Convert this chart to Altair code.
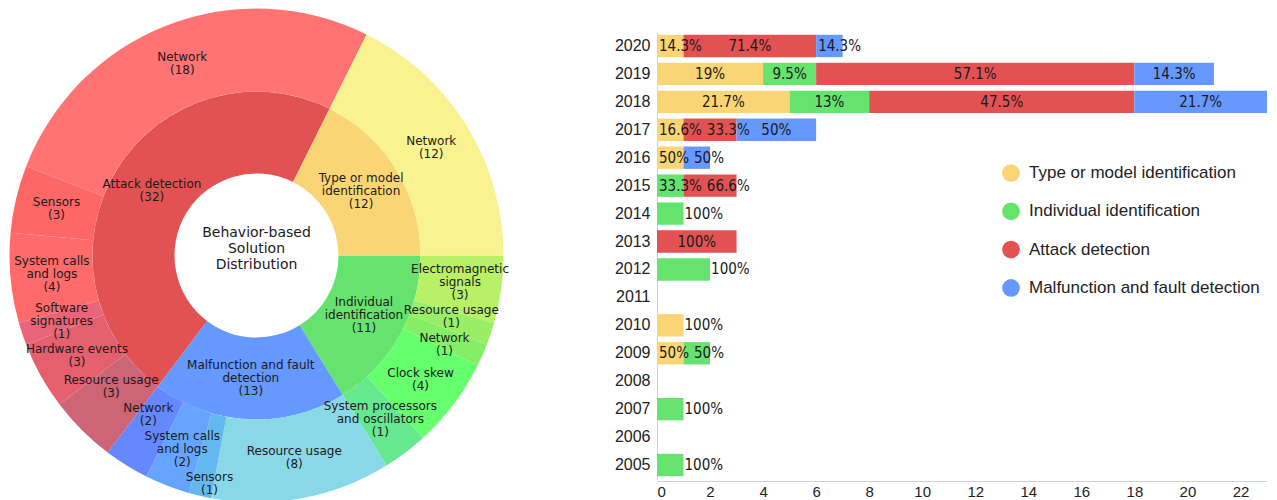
import math
import altair as alt
import pandas as pd

# ---------------- Sunburst data ----------------
inner_names = ["Individual identification", "Malfunction and fault detection",
               "Attack detection", "Type or model identification"]
inner_counts = [11, 13, 32, 12]
inner_texts = ["Individual\nidentification\n(11)", "Malfunction and fault\ndetection\n(13)",
               "Attack detection\n(32)", "Type or model\nidentification\n(12)"]

outer_parents = (["Individual identification"] * 5 + ["Malfunction and fault detection"] * 4
                 + ["Attack detection"] * 6 + ["Type or model identification"])
outer_names = ["Electromagnetic signals", "Resource usage", "Network", "Clock skew",
               "System processors and oscillators",
               "Resource usage", "Sensors", "System calls and logs", "Network",
               "Resource usage", "Hardware events", "Software signatures",
               "System calls and logs", "Sensors", "Network",
               "Network"]
outer_sizes = [3, 1, 1, 4, 2,
               8, 1, 2, 2,
               3, 3, 1, 4, 3, 18,
               12]
outer_texts = ["Electromagnetic\nsignals\n(3)", "Resource usage\n(1)", "Network\n(1)", "Clock skew\n(4)",
               "System processors\nand oscillators\n(1)",
               "Resource usage\n(8)", "Sensors\n(1)", "System calls\nand logs\n(2)", "Network\n(2)",
               "Resource usage\n(3)", "Hardware events\n(3)", "Software\nsignatures\n(1)",
               "System calls\nand logs\n(4)", "Sensors\n(3)", "Network\n(18)",
               "Network\n(12)"]
title_lines = ["Behavior-based", "Solution", "Distribution"]

inner_palette = ["#66E36E", "#6699FF", "#E35252", "#FAD575"]
outer_palette = ["#B8F066", "#99EE66", "#85EE66", "#66FF6E", "#66E890",
                 "#88D8E8", "#63B9EF", "#66A5FF", "#6688FF",
                 "#CC6677", "#E5606E", "#E8667A", "#FF6B6B", "#FF6767", "#FF7373",
                 "#F8F291"]

# ---------------- Bar chart data ----------------
years = ["2020", "2019", "2018", "2017", "2016", "2015", "2014", "2013",
         "2012", "2011", "2010", "2009", "2008", "2007", "2006", "2005"]
bar_categories = ["Type or model identification", "Individual identification",
                  "Attack detection", "Malfunction and fault detection"]
type_counts = [1, 4, 5, 1, 1, 0, 0, 0, 0, 0, 1, 1, 0, 0, 0, 0]
indiv_counts = [0, 2, 3, 0, 0, 1, 1, 0, 2, 0, 0, 1, 0, 1, 0, 1]
attack_counts = [5, 12, 10, 2, 0, 2, 0, 3, 0, 0, 0, 0, 0, 0, 0, 0]
malf_counts = [1, 3, 5, 3, 1, 0, 0, 0, 0, 0, 0, 0, 0, 0, 0, 0]
type_pct = ["14.3%", "19%", "21.7%", "16.6%", "50%", "", "", "", "", "", "100%", "50%", "", "", "", ""]
indiv_pct = ["", "9.5%", "13%", "", "", "33.3%", "100%", "", "100%", "", "", "50%", "", "100%", "", "100%"]
attack_pct = ["71.4%", "57.1%", "47.5%", "33.3%", "", "66.6%", "", "100%", "", "", "", "", "", "", "", ""]
malf_pct = ["14.3%", "14.3%", "21.7%", "50%", "50%", "", "", "", "", "", "", "", "", "", "", ""]
bar_palette = ["#FAD575", "#66E36E", "#E35252", "#6699FF"]

# ---------------- Layout constants ----------------
CX, CY = 248.5, 247.5
R0, R1, R2 = 82, 164, 247
FONT_PIE = "DejaVu Sans"
FONT_BAR = "Liberation Sans"
FONT_BARLBL = "DejaVu Sans Condensed, Liberation Sans"
BAR_W, PANEL_H = 610, 473
X_MAX = 23
LH = 13
PIE_FS = 12

total = sum(inner_counts)
theta_scale = alt.Scale(domain=[0, total], range=[math.pi / 2, math.pi / 2 + 2 * math.pi])

# approximate DejaVu Sans advance widths (em) for label-collision estimates
_DV = {"a": .613, "b": .635, "c": .55, "d": .635, "e": .615, "f": .352, "g": .635, "h": .634,
       "i": .278, "j": .278, "k": .579, "l": .278, "m": .974, "n": .634, "o": .612, "p": .635,
       "q": .635, "r": .411, "s": .521, "t": .392, "u": .634, "v": .592, "w": .818, "x": .592,
       "y": .592, "z": .525, " ": .318, "(": .39, ")": .39, "-": .361}


def dv_width(line, size=PIE_FS):
    w = 0.0
    for ch in line:
        if ch.isdigit():
            w += .636
        elif ch.isupper():
            w += .7
        else:
            w += _DV.get(ch, .6)
    return w * size


def ring_table(keys, values, texts, radius, repel=False):
    df = pd.DataFrame({"key": keys, "value": values, "label": texts})
    df["end"] = df["value"].cumsum()
    df["start"] = df["end"] - df["value"]
    df["mid"] = (df["start"] + df["end"]) / 2
    df["nlines"] = df["label"].str.count("\n") + 1
    boxes = []
    for _, r in df.iterrows():
        a = math.pi / 2 + r["mid"] / total * 2 * math.pi
        lines = r["label"].split("\n")
        boxes.append([radius * math.sin(a), -radius * math.cos(a),
                      max(dv_width(s) for s in lines) + 2, len(lines) * LH + 2])
    if repel:
        # simple label repulsion (push overlapping label blocks apart)
        for _ in range(300):
            moved = False
            for i in range(len(boxes)):
                for j in range(i + 1, len(boxes)):
                    xi, yi, wi, hi = boxes[i]
                    xj, yj, wj, hj = boxes[j]
                    ox = (wi + wj) / 2 - abs(xi - xj)
                    oy = (hi + hj) / 2 - abs(yi - yj)
                    if ox > 0 and oy > 0:
                        moved = True
                        if oy <= ox:
                            st = 0.25 * oy * (1 if yi >= yj else -1)
                            boxes[i][1] += st
                            boxes[j][1] -= st
                        else:
                            st = 0.25 * ox * (1 if xi >= xj else -1)
                            boxes[i][0] += st
                            boxes[j][0] -= st
            if not moved:
                break
    th, rr = [], []
    for x, y, _, _ in boxes:
        ang = math.atan2(x, -y)
        th.append(((ang - math.pi / 2) % (2 * math.pi)) / (2 * math.pi) * total)
        rr.append(math.hypot(x, y))
    df["lt"] = th
    df["lr"] = rr
    return df


inner_df = ring_table(inner_names, inner_counts, inner_texts, (R0 + R1) / 2)
outer_keys = [p + " / " + n for p, n in zip(outer_parents, outer_names)]
outer_df = ring_table(outer_keys, outer_sizes, outer_texts, (R1 + R2) / 2, repel=True)

title_df = pd.DataFrame({"title": ["\n".join(title_lines)]})

pos = dict(x=alt.value(CX), y=alt.value(CY))

inner_arc = alt.Chart(inner_df).mark_arc(innerRadius=R0, outerRadius=R1).encode(
    theta=alt.Theta("start:Q", scale=theta_scale, stack=None),
    theta2="end:Q",
    color=alt.Color("key:N", scale=alt.Scale(domain=inner_names, range=inner_palette), legend=None),
    **pos,
)
outer_arc = alt.Chart(outer_df).mark_arc(innerRadius=R1, outerRadius=R2).encode(
    theta=alt.Theta("start:Q", scale=theta_scale, stack=None),
    theta2="end:Q",
    color=alt.Color("key:N", scale=alt.Scale(domain=outer_keys, range=outer_palette), legend=None),
    **pos,
)


def ring_text(df, n):
    # vertically centre an n-line block on its anchor
    return alt.Chart(df).transform_filter(alt.datum.nlines == n).mark_text(
        font=FONT_PIE, fontSize=PIE_FS, lineHeight=LH, lineBreak="\n",
        align="center", baseline="middle", color="#1a1a1a", dy=-(n - 1) * LH / 2).encode(
        theta=alt.Theta("lt:Q", scale=theta_scale, stack=None),
        radius=alt.Radius("lr:Q", scale=None),
        text="label:N", **pos)


texts = [ring_text(inner_df, n) for n in (2, 3)] + [ring_text(outer_df, n) for n in (2, 3)]

title_text = alt.Chart(title_df).mark_text(
    font=FONT_PIE, fontSize=14, lineHeight=16, lineBreak="\n",
    align="center", baseline="middle", color="#1a1a1a").encode(
    text="title:N", x=alt.value(CX), y=alt.value(CY - 7 - 16))

left = alt.layer(inner_arc, outer_arc, *texts, title_text).resolve_scale(
    color="independent").properties(width=649, height=PANEL_H)

# ---------------- bar table and label placement ----------------
count_lists = [type_counts, indiv_counts, attack_counts, malf_counts]
pct_lists = [type_pct, indiv_pct, attack_pct, malf_pct]
k = BAR_W / X_MAX


def text_w(s):
    w = 0.0
    for ch in s:
        if ch.isdigit():
            w += 0.572
        elif ch == ".":
            w += 0.286
        elif ch == "%":
            w += 0.855
        else:
            w += 0.55
    return w * 15


rows = []
for i, yr in enumerate(years):
    segs = [(bar_categories[c], count_lists[c][i], pct_lists[c][i]) for c in range(4) if count_lists[c][i] > 0]
    s = 0
    prev_right = None
    for cat, v, lbl in segs:
        e = s + v
        w = text_w(lbl)
        if len(segs) == 1 and v <= 2:
            left_px = e * k + 1
        elif v <= 1:
            left_px = s * k + 2
        else:
            left_px = (s + e) / 2 * k - w / 2
        if prev_right is not None:
            left_px = max(left_px, prev_right + 5)
        prev_right = left_px + w
        rows.append({"year": yr, "category": cat, "start": s, "end": e, "pct": lbl, "lx": left_px / k})
        s = e
bar_df = pd.DataFrame(rows)

y_scale = alt.Scale(domain=years, range=[24, 471], paddingInner=0.2, paddingOuter=0.1)
y_enc = alt.Y("year:N", sort=years, scale=y_scale,
              axis=alt.Axis(title=None, ticks=False, domainColor="#d0d0d0", labelPadding=7,
                            labelFont=FONT_BAR, labelFontSize=16, labelColor="#222222"))
x_scale = alt.Scale(domain=[0, X_MAX], nice=False)

bars = alt.Chart(bar_df).mark_bar().encode(
    x=alt.X("start:Q", scale=x_scale,
            axis=alt.Axis(title=None, values=list(range(0, 23, 2)), grid=False, ticks=False,
                          domainColor="#d0d0d0", labelPadding=3, labelFont=FONT_BAR,
                          labelFontSize=15, labelColor="#222222")),
    x2="end:Q",
    y=y_enc,
    color=alt.Color("category:N", scale=alt.Scale(domain=bar_categories, range=bar_palette),
                    legend=alt.Legend(title=None, orient="none", legendX=345, legendY=156,
                                      symbolType="circle", symbolSize=314, symbolStrokeWidth=0,
                                      symbolOpacity=1, labelFont=FONT_BAR, labelFontSize=17,
                                      labelColor="#222222", labelOffset=9, rowPadding=20.3,
                                      labelLimit=0)),
)
labels = alt.Chart(bar_df).mark_text(align="left", baseline="middle", font=FONT_BARLBL,
                                     fontSize=15, color="#1a1a1a").encode(
    x=alt.X("lx:Q", scale=x_scale), y=alt.Y("year:N", sort=years, scale=y_scale), text="pct:N")

right = alt.layer(bars, labels).properties(width=BAR_W, height=PANEL_H)

chart = alt.hconcat(left, right, spacing=0, bounds="flush").resolve_scale(
    color="independent").properties(padding=0).configure_view(stroke=None)

chart.save("out.html", embed_options={"renderer": "svg", "actions": False})
